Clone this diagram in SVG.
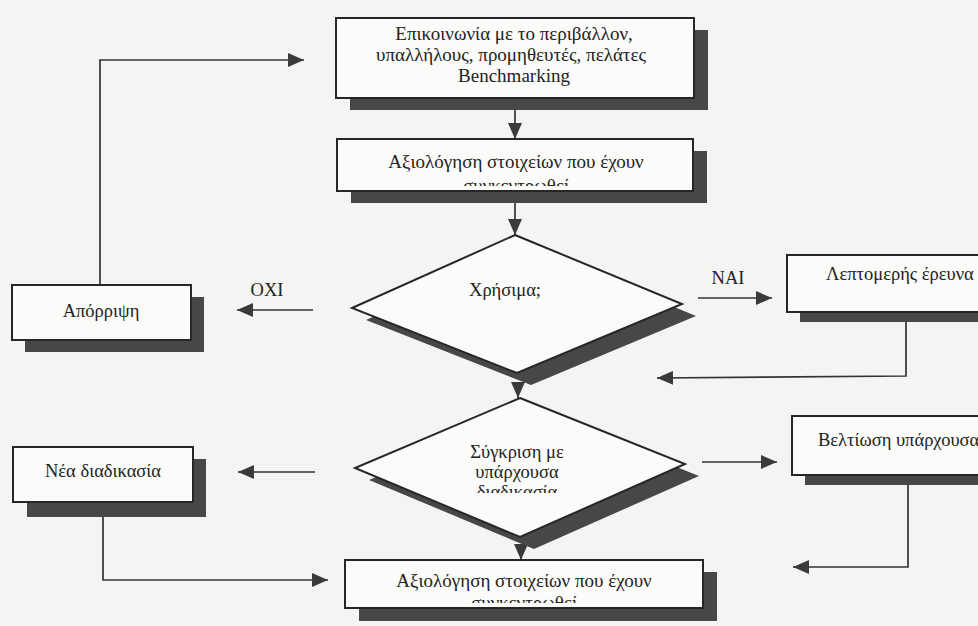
<svg xmlns="http://www.w3.org/2000/svg" width="978" height="626" viewBox="0 0 978 626">
  <defs>
    <style>
      .bg { fill: #f4f4f2; }
      .box { fill: #fbfbf9; stroke: #262626; stroke-width: 2; }
      .shadow { fill: #474747; }
      .t { font-family: "Liberation Serif", "Times New Roman", serif; font-size: 18.5px; fill: #222; }
      .big { font-size: 19px; }
      .c { text-anchor: middle; }
      .line { fill: none; stroke: #333; stroke-width: 1.7; }
    </style>
    <marker id="ah" viewBox="0 0 16 14" refX="16" refY="7" markerWidth="16" markerHeight="14" markerUnits="userSpaceOnUse" orient="auto">
      <path d="M0,0 L16,7 L0,14 Z" fill="#3a3a3a"/>
    </marker>
    <clipPath id="clipB2"><rect x="330" y="130" width="380" height="56"/></clipPath>
    <clipPath id="clipD2"><rect x="340" y="430" width="360" height="63"/></clipPath>
    <clipPath id="clipB3"><rect x="340" y="555" width="380" height="48"/></clipPath>
  </defs>

  <rect class="bg" x="0" y="0" width="978" height="626"/>

  <g id="connectors">
    <line class="line" x1="515" y1="110" x2="515" y2="139" marker-end="url(#ah)"/>
    <line class="line" x1="515" y1="203" x2="515" y2="235" marker-end="url(#ah)"/>
    <line class="line" x1="518" y1="385" x2="518" y2="398" marker-end="url(#ah)"/>
    <line class="line" x1="521" y1="549" x2="521" y2="560" marker-end="url(#ah)"/>
    <line class="line" x1="313" y1="310" x2="237" y2="310" marker-end="url(#ah)"/>
    <polyline class="line" points="100,285 100,60 304,60" marker-end="url(#ah)"/>
    <line class="line" x1="698" y1="298" x2="772" y2="298" marker-end="url(#ah)"/>
    <polyline class="line" points="906,322 906,376 657,378" marker-end="url(#ah)"/>
    <line class="line" x1="315" y1="472" x2="238" y2="472" marker-end="url(#ah)"/>
    <polyline class="line" points="103,517 103,580 328,580" marker-end="url(#ah)"/>
    <line class="line" x1="702" y1="462" x2="777" y2="462" marker-end="url(#ah)"/>
    <polyline class="line" points="908,485 908,567 793,567" marker-end="url(#ah)"/>
    <text class="t c" x="267" y="296">OXI</text>
    <text class="t c" x="728" y="284">NAI</text>
  </g>

  <g id="n-contact">
    <rect class="shadow" x="350" y="30" width="358" height="80"/>
    <rect class="box" x="336" y="18" width="358" height="80"/>
    <text class="t big c" x="514" y="40">Επικοινωνία με το περιβάλλον,</text>
    <text class="t big c" x="511" y="61">υπαλλήλους, προμηθευτές, πελάτες</text>
    <text class="t big c" x="514" y="82">Benchmarking</text>
  </g>

  <g id="n-evaluate1">
    <rect class="shadow" x="351" y="151" width="356" height="52"/>
    <rect class="box" x="337" y="139" width="356" height="52"/>
    <g clip-path="url(#clipB2)">
      <text class="t big c" x="516" y="168">Αξιολόγηση στοιχείων που έχουν</text>
      <text class="t big c" x="516" y="192">συγκεντρωθεί</text>
    </g>
  </g>

  <g id="n-useful">
    <polygon class="shadow" points="529,247 696,316 531,385 366,320"/>
    <polygon class="box" points="515,235 682,304 517,373 352,308"/>
    <text class="t c" x="505" y="296">Χρήσιμα;</text>
  </g>

  <g id="n-reject">
    <rect class="shadow" x="25" y="297" width="179" height="55"/>
    <rect class="box" x="12" y="285" width="179" height="55"/>
    <text class="t c" x="101" y="317">Απόρριψη</text>
  </g>

  <g id="n-research">
    <rect class="shadow" x="800" y="267" width="200" height="55"/>
    <rect class="box" x="787" y="255" width="220" height="57"/>
    <text class="t" x="826" y="280">Λεπτομερής έρευνα</text>
  </g>

  <g id="n-compare">
    <polygon class="shadow" points="534,410 699,476 534,549 369,480"/>
    <polygon class="box" points="520,398 685,464 520,537 355,468"/>
    <g clip-path="url(#clipD2)">
      <text class="t c" x="517" y="458">Σύγκριση με</text>
      <text class="t c" x="517" y="478">υπάρχουσα</text>
      <text class="t c" x="517" y="498">διαδικασία</text>
    </g>
  </g>

  <g id="n-new">
    <rect class="shadow" x="27" y="459" width="179" height="58"/>
    <rect class="box" x="13" y="447" width="180" height="55"/>
    <text class="t c" x="103" y="477">Νέα διαδικασία</text>
  </g>

  <g id="n-improve">
    <rect class="shadow" x="805" y="427" width="200" height="58"/>
    <rect class="box" x="792" y="416" width="220" height="59"/>
    <text class="t" x="818" y="446">Βελτίωση υπάρχουσα</text>
  </g>

  <g id="n-evaluate2">
    <rect class="shadow" x="359" y="572" width="358" height="49"/>
    <rect class="box" x="345" y="560" width="358" height="48"/>
    <g clip-path="url(#clipB3)">
      <text class="t big c" x="524" y="587">Αξιολόγηση στοιχείων που έχουν</text>
      <text class="t big c" x="524" y="609">συγκεντρωθεί</text>
    </g>
  </g>
</svg>
